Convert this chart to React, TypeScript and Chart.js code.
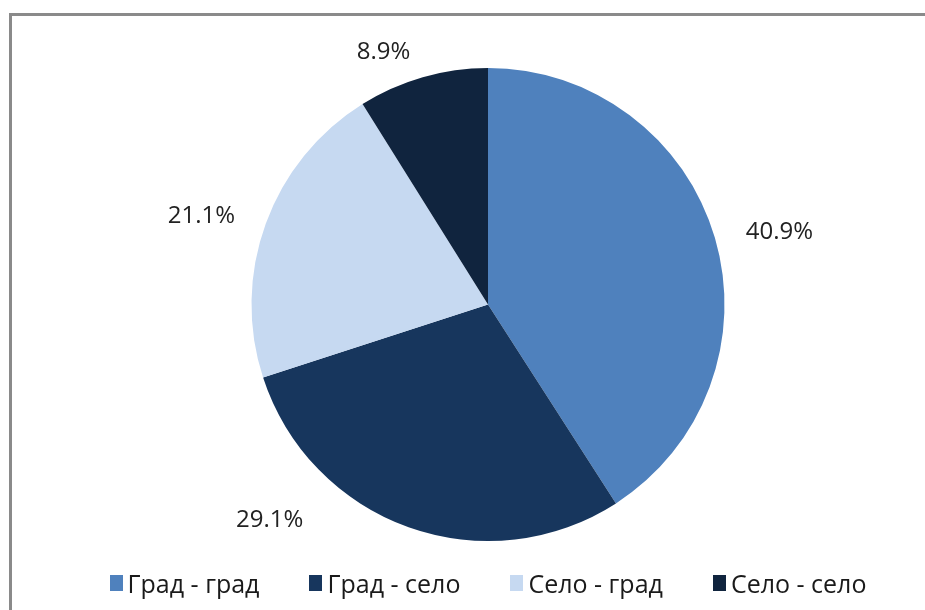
import React, { useEffect, useRef } from "react";
import { Chart, registerables } from "chart.js";

Chart.register(...registerables);

const categories = ["Град - град", "Град - село", "Село - град", "Село - село"];
const shares = [40.9, 29.1, 21.1, 8.9];
const valueLabels = ["40.9%", "29.1%", "21.1%", "8.9%"];
const sliceColors = ["#4F81BD", "#17365D", "#C6D9F1", "#10243E"];

const FONT = "'Open Sans', 'DejaVu Sans', sans-serif";

// Per-slice nudges that imitate Excel's "best fit" placement of outside labels
const labelNudges: [number, number][] = [
  [5, 12],
  [-118, -66],
  [-6, 14],
  [-22, 35],
];

const outsideLabels = {
  id: "outsideLabels",
  afterDatasetsDraw(chart: any) {
    const meta = chart.getDatasetMeta(0);
    const ctx = chart.ctx;
    ctx.save();
    ctx.font = `24px ${FONT}`;
    ctx.fillStyle = "#222222";
    ctx.textAlign = "center";
    ctx.textBaseline = "middle";
    meta.data.forEach((arc: any, i: number) => {
      const { x, y, startAngle, endAngle, outerRadius } = arc.getProps(
        ["x", "y", "startAngle", "endAngle", "outerRadius"],
        true
      );
      const mid = (startAngle + endAngle) / 2;
      const r = outerRadius + 62;
      const [dx, dy] = labelNudges[i] || [0, 0];
      ctx.fillText(valueLabels[i], x + Math.cos(mid) * r + dx, y + Math.sin(mid) * r + dy);
    });
    ctx.restore();
  },
};

export default function App() {
  const canvasRef = useRef<HTMLCanvasElement | null>(null);

  useEffect(() => {
    if (!canvasRef.current) return;
    const chart = new Chart(canvasRef.current, {
      type: "pie",
      data: {
        labels: categories,
        datasets: [
          {
            data: shares,
            backgroundColor: sliceColors,
            borderWidth: 0,
          },
        ],
      },
      options: {
        animation: false,
        responsive: false,
        maintainAspectRatio: false,
        layout: { padding: { top: 68, bottom: 69, left: 51, right: 0 } },
        plugins: {
          legend: { display: false },
          tooltip: { enabled: false },
        },
      },
      plugins: [outsideLabels],
    });
    return () => chart.destroy();
  }, []);

  return (
    <div
      style={{
        position: "absolute",
        left: 0,
        top: 0,
        width: 925,
        height: 610,
        background: "#ffffff",
        overflow: "hidden",
        fontFamily: FONT,
      }}
    >
      <div
        style={{
          position: "absolute",
          left: 9,
          top: 13,
          width: 940,
          height: 620,
          borderTop: "3px solid #8a8a8a",
          borderLeft: "3px solid #8a8a8a",
        }}
      />
      <canvas
        ref={canvasRef}
        width={925}
        height={610}
        style={{ position: "absolute", left: 0, top: 0, width: 925, height: 610 }}
      />
      <div
        style={{
          position: "absolute",
          left: 51,
          right: 0,
          top: 566,
          height: 34,
          display: "flex",
          justifyContent: "center",
          alignItems: "center",
          gap: 50,
          fontSize: 25,
          color: "#1a1a1a",
        }}
      >
        {categories.map((c, i) => (
          <div key={c} style={{ display: "flex", alignItems: "center", gap: 5 }}>
            <span
              style={{
                display: "inline-block",
                width: 13,
                height: 16,
                background: sliceColors[i],
              }}
            />
            <span>{c}</span>
          </div>
        ))}
      </div>
    </div>
  );
}
